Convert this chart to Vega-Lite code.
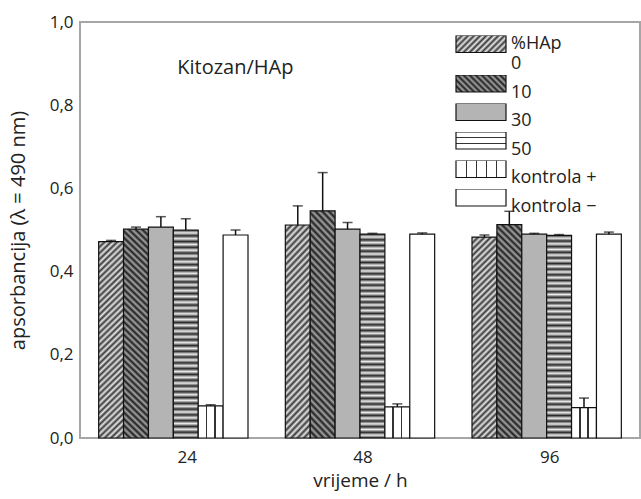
{
  "$schema": "https://vega.github.io/schema/vega-lite/v6.json",
  "width": 560,
  "height": 416,
  "autosize": "none",
  "padding": {"left": 80, "top": 22, "right": 1, "bottom": 61},
  "params": [
    {"name": "lg0", "value": {"gradient": "linear", "x1": 0, "y1": 0, "x2": 1.201, "y2": 0.408, "stops": [
      {"offset":0,"color":"#3a3a3a"},{"offset":0.0455,"color":"#e6e6e6"},{"offset":0.0909,"color":"#3a3a3a"},{"offset":0.1364,"color":"#e6e6e6"},{"offset":0.1818,"color":"#3a3a3a"},{"offset":0.2273,"color":"#e6e6e6"},{"offset":0.2727,"color":"#3a3a3a"},{"offset":0.3182,"color":"#e6e6e6"},{"offset":0.3636,"color":"#3a3a3a"},{"offset":0.4091,"color":"#e6e6e6"},{"offset":0.4545,"color":"#3a3a3a"},{"offset":0.5,"color":"#e6e6e6"},{"offset":0.5455,"color":"#3a3a3a"},{"offset":0.5909,"color":"#e6e6e6"},{"offset":0.6364,"color":"#3a3a3a"},{"offset":0.6818,"color":"#e6e6e6"},{"offset":0.7273,"color":"#3a3a3a"},{"offset":0.7727,"color":"#e6e6e6"},{"offset":0.8182,"color":"#3a3a3a"},{"offset":0.8636,"color":"#e6e6e6"},{"offset":0.9091,"color":"#3a3a3a"},{"offset":0.9545,"color":"#e6e6e6"},{"offset":1,"color":"#3a3a3a"}]}},
    {"name": "lg10", "value": {"gradient": "linear", "x1": 0, "y1": 1, "x2": 1.201, "y2": 0.592, "stops": [
      {"offset":0,"color":"#1e1e1e"},{"offset":0.0455,"color":"#a4a4a4"},{"offset":0.0909,"color":"#1e1e1e"},{"offset":0.1364,"color":"#a4a4a4"},{"offset":0.1818,"color":"#1e1e1e"},{"offset":0.2273,"color":"#a4a4a4"},{"offset":0.2727,"color":"#1e1e1e"},{"offset":0.3182,"color":"#a4a4a4"},{"offset":0.3636,"color":"#1e1e1e"},{"offset":0.4091,"color":"#a4a4a4"},{"offset":0.4545,"color":"#1e1e1e"},{"offset":0.5,"color":"#a4a4a4"},{"offset":0.5455,"color":"#1e1e1e"},{"offset":0.5909,"color":"#a4a4a4"},{"offset":0.6364,"color":"#1e1e1e"},{"offset":0.6818,"color":"#a4a4a4"},{"offset":0.7273,"color":"#1e1e1e"},{"offset":0.7727,"color":"#a4a4a4"},{"offset":0.8182,"color":"#1e1e1e"},{"offset":0.8636,"color":"#a4a4a4"},{"offset":0.9091,"color":"#1e1e1e"},{"offset":0.9545,"color":"#a4a4a4"},{"offset":1,"color":"#1e1e1e"}]}},
    {"name": "lg50", "value": {"gradient": "linear", "x1": 0, "y1": 0, "x2": 0, "y2": 1, "stops": [
      {"offset":0,"color":"#ffffff"},{"offset":0.28,"color":"#ffffff"},{"offset":0.28,"color":"#333333"},{"offset":0.38,"color":"#333333"},{"offset":0.38,"color":"#ffffff"},{"offset":0.62,"color":"#ffffff"},{"offset":0.62,"color":"#333333"},{"offset":0.72,"color":"#333333"},{"offset":0.72,"color":"#ffffff"},{"offset":1,"color":"#ffffff"}]}},
    {"name": "lgk", "value": {"gradient": "linear", "x1": 0, "y1": 0, "x2": 1, "y2": 0, "stops": [
      {"offset":0,"color":"#ffffff"},{"offset":0.19,"color":"#ffffff"},{"offset":0.19,"color":"#333333"},{"offset":0.22,"color":"#333333"},{"offset":0.22,"color":"#ffffff"},{"offset":0.39,"color":"#ffffff"},{"offset":0.39,"color":"#333333"},{"offset":0.42,"color":"#333333"},{"offset":0.42,"color":"#ffffff"},{"offset":0.59,"color":"#ffffff"},{"offset":0.59,"color":"#333333"},{"offset":0.62,"color":"#333333"},{"offset":0.62,"color":"#ffffff"},{"offset":0.79,"color":"#ffffff"},{"offset":0.79,"color":"#333333"},{"offset":0.82,"color":"#333333"},{"offset":0.82,"color":"#ffffff"},{"offset":1,"color":"#ffffff"}]}}
  ],
  "data": {"values": [
    {"t": "24", "s": "0", "v": 0.472, "e": 0.475},
    {"t": "24", "s": "10", "v": 0.502, "e": 0.507},
    {"t": "24", "s": "30", "v": 0.507, "e": 0.532},
    {"t": "24", "s": "50", "v": 0.500, "e": 0.527},
    {"t": "24", "s": "kontrola +", "v": 0.077, "e": 0.080},
    {"t": "24", "s": "kontrola −", "v": 0.488, "e": 0.500},
    {"t": "48", "s": "0", "v": 0.512, "e": 0.558},
    {"t": "48", "s": "10", "v": 0.546, "e": 0.638},
    {"t": "48", "s": "30", "v": 0.502, "e": 0.518},
    {"t": "48", "s": "50", "v": 0.490, "e": 0.492},
    {"t": "48", "s": "kontrola +", "v": 0.075, "e": 0.082},
    {"t": "48", "s": "kontrola −", "v": 0.490, "e": 0.493},
    {"t": "96", "s": "0", "v": 0.483, "e": 0.488},
    {"t": "96", "s": "10", "v": 0.513, "e": 0.545},
    {"t": "96", "s": "30", "v": 0.490, "e": 0.492},
    {"t": "96", "s": "50", "v": 0.487, "e": 0.489},
    {"t": "96", "s": "kontrola +", "v": 0.073, "e": 0.096},
    {"t": "96", "s": "kontrola −", "v": 0.490, "e": 0.495}
  ]},
  "layer": [
    {
      "mark": {"type": "bar", "stroke": "#111", "strokeWidth": 1.2},
      "encoding": {
        "x": {"field": "t", "type": "nominal", "sort": null,
          "scale": {"domain": ["24", "48", "96"], "paddingInner": 0.2, "paddingOuter": 0.1},
          "axis": {"title": "vrijeme / h", "labelAngle": 0, "ticks": false, "domain": false, "labelPadding": 11, "titlePadding": 6, "titleFontSize": 19,
            "labelOffset": {"condition": {"test": "datum.label == '24'", "value": 14}, "value": 3}}},
        "xOffset": {"field": "s", "type": "nominal", "sort": null,
          "scale": {"domain": ["0", "10", "30", "50", "kontrola +", "kontrola −"], "paddingInner": 0, "paddingOuter": 0}},
        "y": {"field": "v", "type": "quantitative",
          "scale": {"domain": [0, 1], "nice": false},
          "axis": {"title": "apsorbancija (λ = 490 nm)", "values": [0, 0.2, 0.4, 0.6, 0.8, 1.0], "grid": false, "ticks": false, "domain": false,
            "labelPadding": 7, "titlePadding": 21, "titleFontSize": 20, "labelExpr": "replace(format(datum.value, '.1f'), '.', ',')"}},
        "fill": {
          "field": "s", "type": "nominal",
          "scale": {"domain": ["0", "10", "30", "50", "kontrola +", "kontrola −"], "range": [{"expr": "lg0"}, {"expr": "lg10"}, "#b4b4b4", {"expr": "lg50"}, {"expr": "lgk"}, "#ffffff"]},
          "condition": [
            {"test": "datum.s === '0'", "value": {"gradient": "linear", "x1": 0, "y1": 0, "x2": 0.1357, "y2": 1.106, "stops": [
              {"offset":0,"color":"#3a3a3a"},{"offset":0.0139,"color":"#e6e6e6"},{"offset":0.0278,"color":"#3a3a3a"},{"offset":0.0417,"color":"#e6e6e6"},{"offset":0.0556,"color":"#3a3a3a"},{"offset":0.0694,"color":"#e6e6e6"},{"offset":0.0833,"color":"#3a3a3a"},{"offset":0.0972,"color":"#e6e6e6"},{"offset":0.1111,"color":"#3a3a3a"},{"offset":0.125,"color":"#e6e6e6"},{"offset":0.1389,"color":"#3a3a3a"},{"offset":0.1528,"color":"#e6e6e6"},{"offset":0.1667,"color":"#3a3a3a"},{"offset":0.1806,"color":"#e6e6e6"},{"offset":0.1944,"color":"#3a3a3a"},{"offset":0.2083,"color":"#e6e6e6"},{"offset":0.2222,"color":"#3a3a3a"},{"offset":0.2361,"color":"#e6e6e6"},{"offset":0.25,"color":"#3a3a3a"},{"offset":0.2639,"color":"#e6e6e6"},{"offset":0.2778,"color":"#3a3a3a"},{"offset":0.2917,"color":"#e6e6e6"},{"offset":0.3056,"color":"#3a3a3a"},{"offset":0.3194,"color":"#e6e6e6"},{"offset":0.3333,"color":"#3a3a3a"},{"offset":0.3472,"color":"#e6e6e6"},{"offset":0.3611,"color":"#3a3a3a"},{"offset":0.375,"color":"#e6e6e6"},{"offset":0.3889,"color":"#3a3a3a"},{"offset":0.4028,"color":"#e6e6e6"},{"offset":0.4167,"color":"#3a3a3a"},{"offset":0.4306,"color":"#e6e6e6"},{"offset":0.4444,"color":"#3a3a3a"},{"offset":0.4583,"color":"#e6e6e6"},{"offset":0.4722,"color":"#3a3a3a"},{"offset":0.4861,"color":"#e6e6e6"},{"offset":0.5,"color":"#3a3a3a"},{"offset":0.5139,"color":"#e6e6e6"},{"offset":0.5278,"color":"#3a3a3a"},{"offset":0.5417,"color":"#e6e6e6"},{"offset":0.5556,"color":"#3a3a3a"},{"offset":0.5694,"color":"#e6e6e6"},{"offset":0.5833,"color":"#3a3a3a"},{"offset":0.5972,"color":"#e6e6e6"},{"offset":0.6111,"color":"#3a3a3a"},{"offset":0.625,"color":"#e6e6e6"},{"offset":0.6389,"color":"#3a3a3a"},{"offset":0.6528,"color":"#e6e6e6"},{"offset":0.6667,"color":"#3a3a3a"},{"offset":0.6806,"color":"#e6e6e6"},{"offset":0.6944,"color":"#3a3a3a"},{"offset":0.7083,"color":"#e6e6e6"},{"offset":0.7222,"color":"#3a3a3a"},{"offset":0.7361,"color":"#e6e6e6"},{"offset":0.75,"color":"#3a3a3a"},{"offset":0.7639,"color":"#e6e6e6"},{"offset":0.7778,"color":"#3a3a3a"},{"offset":0.7917,"color":"#e6e6e6"},{"offset":0.8056,"color":"#3a3a3a"},{"offset":0.8194,"color":"#e6e6e6"},{"offset":0.8333,"color":"#3a3a3a"},{"offset":0.8472,"color":"#e6e6e6"},{"offset":0.8611,"color":"#3a3a3a"},{"offset":0.875,"color":"#e6e6e6"},{"offset":0.8889,"color":"#3a3a3a"},{"offset":0.9028,"color":"#e6e6e6"},{"offset":0.9167,"color":"#3a3a3a"},{"offset":0.9306,"color":"#e6e6e6"},{"offset":0.9444,"color":"#3a3a3a"},{"offset":0.9583,"color":"#e6e6e6"},{"offset":0.9722,"color":"#3a3a3a"},{"offset":0.9861,"color":"#e6e6e6"},{"offset":1,"color":"#3a3a3a"}]}},
            {"test": "datum.s === '10'", "value": {"gradient": "linear", "x1": 0, "y1": 1, "x2": 0.1269, "y2": -0.101, "stops": [
              {"offset":0,"color":"#1e1e1e"},{"offset":0.0139,"color":"#a4a4a4"},{"offset":0.0278,"color":"#1e1e1e"},{"offset":0.0417,"color":"#a4a4a4"},{"offset":0.0556,"color":"#1e1e1e"},{"offset":0.0694,"color":"#a4a4a4"},{"offset":0.0833,"color":"#1e1e1e"},{"offset":0.0972,"color":"#a4a4a4"},{"offset":0.1111,"color":"#1e1e1e"},{"offset":0.125,"color":"#a4a4a4"},{"offset":0.1389,"color":"#1e1e1e"},{"offset":0.1528,"color":"#a4a4a4"},{"offset":0.1667,"color":"#1e1e1e"},{"offset":0.1806,"color":"#a4a4a4"},{"offset":0.1944,"color":"#1e1e1e"},{"offset":0.2083,"color":"#a4a4a4"},{"offset":0.2222,"color":"#1e1e1e"},{"offset":0.2361,"color":"#a4a4a4"},{"offset":0.25,"color":"#1e1e1e"},{"offset":0.2639,"color":"#a4a4a4"},{"offset":0.2778,"color":"#1e1e1e"},{"offset":0.2917,"color":"#a4a4a4"},{"offset":0.3056,"color":"#1e1e1e"},{"offset":0.3194,"color":"#a4a4a4"},{"offset":0.3333,"color":"#1e1e1e"},{"offset":0.3472,"color":"#a4a4a4"},{"offset":0.3611,"color":"#1e1e1e"},{"offset":0.375,"color":"#a4a4a4"},{"offset":0.3889,"color":"#1e1e1e"},{"offset":0.4028,"color":"#a4a4a4"},{"offset":0.4167,"color":"#1e1e1e"},{"offset":0.4306,"color":"#a4a4a4"},{"offset":0.4444,"color":"#1e1e1e"},{"offset":0.4583,"color":"#a4a4a4"},{"offset":0.4722,"color":"#1e1e1e"},{"offset":0.4861,"color":"#a4a4a4"},{"offset":0.5,"color":"#1e1e1e"},{"offset":0.5139,"color":"#a4a4a4"},{"offset":0.5278,"color":"#1e1e1e"},{"offset":0.5417,"color":"#a4a4a4"},{"offset":0.5556,"color":"#1e1e1e"},{"offset":0.5694,"color":"#a4a4a4"},{"offset":0.5833,"color":"#1e1e1e"},{"offset":0.5972,"color":"#a4a4a4"},{"offset":0.6111,"color":"#1e1e1e"},{"offset":0.625,"color":"#a4a4a4"},{"offset":0.6389,"color":"#1e1e1e"},{"offset":0.6528,"color":"#a4a4a4"},{"offset":0.6667,"color":"#1e1e1e"},{"offset":0.6806,"color":"#a4a4a4"},{"offset":0.6944,"color":"#1e1e1e"},{"offset":0.7083,"color":"#a4a4a4"},{"offset":0.7222,"color":"#1e1e1e"},{"offset":0.7361,"color":"#a4a4a4"},{"offset":0.75,"color":"#1e1e1e"},{"offset":0.7639,"color":"#a4a4a4"},{"offset":0.7778,"color":"#1e1e1e"},{"offset":0.7917,"color":"#a4a4a4"},{"offset":0.8056,"color":"#1e1e1e"},{"offset":0.8194,"color":"#a4a4a4"},{"offset":0.8333,"color":"#1e1e1e"},{"offset":0.8472,"color":"#a4a4a4"},{"offset":0.8611,"color":"#1e1e1e"},{"offset":0.875,"color":"#a4a4a4"},{"offset":0.8889,"color":"#1e1e1e"},{"offset":0.9028,"color":"#a4a4a4"},{"offset":0.9167,"color":"#1e1e1e"},{"offset":0.9306,"color":"#a4a4a4"},{"offset":0.9444,"color":"#1e1e1e"},{"offset":0.9583,"color":"#a4a4a4"},{"offset":0.9722,"color":"#1e1e1e"},{"offset":0.9861,"color":"#a4a4a4"},{"offset":1,"color":"#1e1e1e"}]}},
            {"test": "datum.s === '50'", "value": {"gradient": "linear", "x1": 0, "y1": 0, "x2": 0, "y2": 1, "stops": [
              {"offset":0,"color":"#2a2a2a"},{"offset":0.0139,"color":"#ececec"},{"offset":0.0278,"color":"#2a2a2a"},{"offset":0.0417,"color":"#ececec"},{"offset":0.0556,"color":"#2a2a2a"},{"offset":0.0694,"color":"#ececec"},{"offset":0.0833,"color":"#2a2a2a"},{"offset":0.0972,"color":"#ececec"},{"offset":0.1111,"color":"#2a2a2a"},{"offset":0.125,"color":"#ececec"},{"offset":0.1389,"color":"#2a2a2a"},{"offset":0.1528,"color":"#ececec"},{"offset":0.1667,"color":"#2a2a2a"},{"offset":0.1806,"color":"#ececec"},{"offset":0.1944,"color":"#2a2a2a"},{"offset":0.2083,"color":"#ececec"},{"offset":0.2222,"color":"#2a2a2a"},{"offset":0.2361,"color":"#ececec"},{"offset":0.25,"color":"#2a2a2a"},{"offset":0.2639,"color":"#ececec"},{"offset":0.2778,"color":"#2a2a2a"},{"offset":0.2917,"color":"#ececec"},{"offset":0.3056,"color":"#2a2a2a"},{"offset":0.3194,"color":"#ececec"},{"offset":0.3333,"color":"#2a2a2a"},{"offset":0.3472,"color":"#ececec"},{"offset":0.3611,"color":"#2a2a2a"},{"offset":0.375,"color":"#ececec"},{"offset":0.3889,"color":"#2a2a2a"},{"offset":0.4028,"color":"#ececec"},{"offset":0.4167,"color":"#2a2a2a"},{"offset":0.4306,"color":"#ececec"},{"offset":0.4444,"color":"#2a2a2a"},{"offset":0.4583,"color":"#ececec"},{"offset":0.4722,"color":"#2a2a2a"},{"offset":0.4861,"color":"#ececec"},{"offset":0.5,"color":"#2a2a2a"},{"offset":0.5139,"color":"#ececec"},{"offset":0.5278,"color":"#2a2a2a"},{"offset":0.5417,"color":"#ececec"},{"offset":0.5556,"color":"#2a2a2a"},{"offset":0.5694,"color":"#ececec"},{"offset":0.5833,"color":"#2a2a2a"},{"offset":0.5972,"color":"#ececec"},{"offset":0.6111,"color":"#2a2a2a"},{"offset":0.625,"color":"#ececec"},{"offset":0.6389,"color":"#2a2a2a"},{"offset":0.6528,"color":"#ececec"},{"offset":0.6667,"color":"#2a2a2a"},{"offset":0.6806,"color":"#ececec"},{"offset":0.6944,"color":"#2a2a2a"},{"offset":0.7083,"color":"#ececec"},{"offset":0.7222,"color":"#2a2a2a"},{"offset":0.7361,"color":"#ececec"},{"offset":0.75,"color":"#2a2a2a"},{"offset":0.7639,"color":"#ececec"},{"offset":0.7778,"color":"#2a2a2a"},{"offset":0.7917,"color":"#ececec"},{"offset":0.8056,"color":"#2a2a2a"},{"offset":0.8194,"color":"#ececec"},{"offset":0.8333,"color":"#2a2a2a"},{"offset":0.8472,"color":"#ececec"},{"offset":0.8611,"color":"#2a2a2a"},{"offset":0.875,"color":"#ececec"},{"offset":0.8889,"color":"#2a2a2a"},{"offset":0.9028,"color":"#ececec"},{"offset":0.9167,"color":"#2a2a2a"},{"offset":0.9306,"color":"#ececec"},{"offset":0.9444,"color":"#2a2a2a"},{"offset":0.9583,"color":"#ececec"},{"offset":0.9722,"color":"#2a2a2a"},{"offset":0.9861,"color":"#ececec"},{"offset":1,"color":"#2a2a2a"}]}},
            {"test": "datum.s === 'kontrola +'", "value": {"gradient": "linear", "x1": 0, "y1": 0, "x2": 1, "y2": 0, "stops": [
              {"offset":0,"color":"#ffffff"},{"offset":0.30,"color":"#ffffff"},{"offset":0.30,"color":"#333333"},{"offset":0.36,"color":"#333333"},{"offset":0.36,"color":"#ffffff"},{"offset":0.64,"color":"#ffffff"},{"offset":0.64,"color":"#333333"},{"offset":0.70,"color":"#333333"},{"offset":0.70,"color":"#ffffff"},{"offset":1,"color":"#ffffff"}]}}
          ],
          "legend": {
            "orient": "none", "legendX": 375, "legendY": 13.5, "title": null,
            "symbolType": "M-1,-0.34H1V0.34H-1Z", "symbolSize": 2500,
            "symbolStrokeColor": "#111", "symbolStrokeWidth": 1.2, "symbolOpacity": 1,
            "labelFontSize": 18, "labelBaseline": {"expr": "datum.label == '0' ? 'middle' : 'top'"}, "labelOffset": 4, "labelLimit": 200, "labelColor": "#222",
            "clipHeight": 17, "rowPadding": 1.5, "padding": 0,
            "labelExpr": "datum.label == '0' ? ['%HAp', '0'] : datum.label"
          }
        }
      }
    },
    {
      "mark": {"type": "rule", "color": "#111", "strokeWidth": 1.5},
      "encoding": {
        "x": {"field": "t", "type": "nominal", "sort": null},
        "xOffset": {"field": "s", "type": "nominal", "sort": null},
        "y": {"field": "v", "type": "quantitative"},
        "y2": {"field": "e"}
      }
    },
    {
      "mark": {"type": "tick", "color": "#111", "size": 10, "thickness": 1.5},
      "encoding": {
        "x": {"field": "t", "type": "nominal", "sort": null},
        "xOffset": {"field": "s", "type": "nominal", "sort": null},
        "y": {"field": "e", "type": "quantitative"}
      }
    },
    {
      "data": {"values": [{"label": "Kitozan/HAp"}]},
      "mark": {"type": "text", "align": "center", "baseline": "middle", "fontSize": 20, "dx": 62, "color": "#222"},
      "encoding": {
        "x": {"datum": "24", "type": "nominal"},
        "y": {"datum": 0.889, "type": "quantitative"},
        "text": {"field": "label"}
      }
    }
  ],
  "config": {
    "font": "Open Sans",
    "view": {"stroke": "#a6a6a6", "strokeWidth": 2},
    "axis": {"labelFontSize": 17, "titleFontSize": 18, "labelColor": "#222", "titleColor": "#222", "titleFontWeight": "normal"}
  }
}
